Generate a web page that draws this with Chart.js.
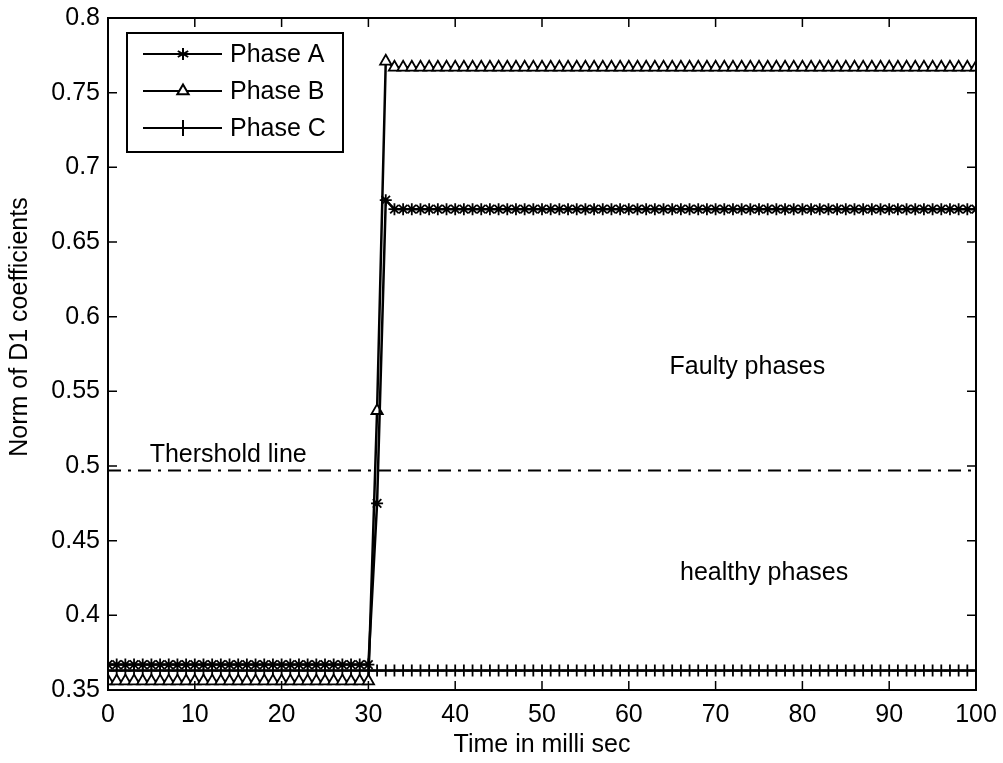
<!DOCTYPE html>
<html>
<head>
<meta charset="utf-8">
<script src="https://cdn.jsdelivr.net/npm/chart.js@4.4.1/dist/chart.umd.min.js"></script>
<style>
html, body { margin: 0; background: #fff; }
#wrap { width: 1003px; height: 763px; }
</style>
</head>
<body>
<div id="wrap"><canvas id="fig"></canvas></div>
<script>
// time axis, ms
const times = [
    0, 1, 2, 3, 4, 5, 6, 7, 8, 9, 10, 11, 12, 13, 14, 15, 16, 17, 18, 19,
    20, 21, 22, 23, 24, 25, 26, 27, 28, 29, 30, 31, 32, 33, 34, 35, 36, 37, 38, 39,
    40, 41, 42, 43, 44, 45, 46, 47, 48, 49, 50, 51, 52, 53, 54, 55, 56, 57, 58, 59,
    60, 61, 62, 63, 64, 65, 66, 67, 68, 69, 70, 71, 72, 73, 74, 75, 76, 77, 78, 79,
    80, 81, 82, 83, 84, 85, 86, 87, 88, 89, 90, 91, 92, 93, 94, 95, 96, 97, 98, 99, 100
];

const phaseA = [
    0.367, 0.367, 0.367, 0.367, 0.367, 0.367, 0.367, 0.367, 0.367, 0.367,
    0.367, 0.367, 0.367, 0.367, 0.367, 0.367, 0.367, 0.367, 0.367, 0.367,
    0.367, 0.367, 0.367, 0.367, 0.367, 0.367, 0.367, 0.367, 0.367, 0.367,
    0.367, 0.475, 0.678, 0.672, 0.672, 0.672, 0.672, 0.672, 0.672, 0.672,
    0.672, 0.672, 0.672, 0.672, 0.672, 0.672, 0.672, 0.672, 0.672, 0.672,
    0.672, 0.672, 0.672, 0.672, 0.672, 0.672, 0.672, 0.672, 0.672, 0.672,
    0.672, 0.672, 0.672, 0.672, 0.672, 0.672, 0.672, 0.672, 0.672, 0.672,
    0.672, 0.672, 0.672, 0.672, 0.672, 0.672, 0.672, 0.672, 0.672, 0.672,
    0.672, 0.672, 0.672, 0.672, 0.672, 0.672, 0.672, 0.672, 0.672, 0.672,
    0.672, 0.672, 0.672, 0.672, 0.672, 0.672, 0.672, 0.672, 0.672, 0.672, 0.672
];

const phaseB = [
    0.356, 0.356, 0.356, 0.356, 0.356, 0.356, 0.356, 0.356, 0.356, 0.356,
    0.356, 0.356, 0.356, 0.356, 0.356, 0.356, 0.356, 0.356, 0.356, 0.356,
    0.356, 0.356, 0.356, 0.356, 0.356, 0.356, 0.356, 0.356, 0.356, 0.356,
    0.356, 0.537, 0.771, 0.767, 0.767, 0.767, 0.767, 0.767, 0.767, 0.767,
    0.767, 0.767, 0.767, 0.767, 0.767, 0.767, 0.767, 0.767, 0.767, 0.767,
    0.767, 0.767, 0.767, 0.767, 0.767, 0.767, 0.767, 0.767, 0.767, 0.767,
    0.767, 0.767, 0.767, 0.767, 0.767, 0.767, 0.767, 0.767, 0.767, 0.767,
    0.767, 0.767, 0.767, 0.767, 0.767, 0.767, 0.767, 0.767, 0.767, 0.767,
    0.767, 0.767, 0.767, 0.767, 0.767, 0.767, 0.767, 0.767, 0.767, 0.767,
    0.767, 0.767, 0.767, 0.767, 0.767, 0.767, 0.767, 0.767, 0.767, 0.767, 0.767
];

const phaseC = [
    0.363, 0.363, 0.363, 0.363, 0.363, 0.363, 0.363, 0.363, 0.363, 0.363,
    0.363, 0.363, 0.363, 0.363, 0.363, 0.363, 0.363, 0.363, 0.363, 0.363,
    0.363, 0.363, 0.363, 0.363, 0.363, 0.363, 0.363, 0.363, 0.363, 0.363,
    0.363, 0.363, 0.363, 0.363, 0.363, 0.363, 0.363, 0.363, 0.363, 0.363,
    0.363, 0.363, 0.363, 0.363, 0.363, 0.363, 0.363, 0.363, 0.363, 0.363,
    0.363, 0.363, 0.363, 0.363, 0.363, 0.363, 0.363, 0.363, 0.363, 0.363,
    0.363, 0.363, 0.363, 0.363, 0.363, 0.363, 0.363, 0.363, 0.363, 0.363,
    0.363, 0.363, 0.363, 0.363, 0.363, 0.363, 0.363, 0.363, 0.363, 0.363,
    0.363, 0.363, 0.363, 0.363, 0.363, 0.363, 0.363, 0.363, 0.363, 0.363,
    0.363, 0.363, 0.363, 0.363, 0.363, 0.363, 0.363, 0.363, 0.363, 0.363, 0.363
];

const threshold = 0.497;
const thresholdTimes = [0, 100];

const xTicks = [0, 10, 20, 30, 40, 50, 60, 70, 80, 90, 100];
const yTicks = [0.35, 0.4, 0.45, 0.5, 0.55, 0.6, 0.65, 0.7, 0.75, 0.8];

// text notes: [label, time, value]
const notes = [
    ["Thershold line", 4.8, 0.507],
    ["Faulty phases", 64.7, 0.566],
    ["healthy phases", 65.9, 0.428]
];

const yTitle = "Norm of D1 coefficients";
const FONT = "'Liberation Sans', Arial, sans-serif";

function pts(ys) {
    return times.map((t, i) => ({ x: t, y: ys[i] }));
}

function marker(c, style, x, y) {
    c.save();
    c.strokeStyle = "#000";
    c.lineWidth = 2;
    c.beginPath();
    if (style === "star") {
        const r = 6;
        for (let k = 0; k < 3; k++) {
            const a = Math.PI / 2 + k * Math.PI / 3;
            c.moveTo(x - r * Math.cos(a), y - r * Math.sin(a));
            c.lineTo(x + r * Math.cos(a), y + r * Math.sin(a));
        }
        c.stroke();
    } else if (style === "triangle") {
        const r = 6.5;
        c.moveTo(x, y - r);
        c.lineTo(x + r * 0.87, y + r * 0.5);
        c.lineTo(x - r * 0.87, y + r * 0.5);
        c.closePath();
        c.fillStyle = "#fff";
        c.fill();
        c.stroke();
    } else {
        c.moveTo(x, y - 8);
        c.lineTo(x, y + 8);
        c.stroke();
    }
    c.restore();
}

const figPlugin = {
    id: "figPlugin",
    afterDraw(chart) {
        const c = chart.ctx;
        const a = chart.chartArea;
        const xs = chart.scales.x;
        const ys = chart.scales.y;
        c.save();
        c.strokeStyle = "#000";
        c.lineWidth = 2;
        c.strokeRect(a.left, a.top, a.right - a.left, a.bottom - a.top);
        c.lineWidth = 1.5;
        c.beginPath();
        xTicks.forEach(t => {
            const px = xs.getPixelForValue(t);
            c.moveTo(px, a.bottom); c.lineTo(px, a.bottom - 9);
            c.moveTo(px, a.top); c.lineTo(px, a.top + 9);
        });
        yTicks.forEach(v => {
            const py = ys.getPixelForValue(v);
            c.moveTo(a.left, py); c.lineTo(a.left + 9, py);
            c.moveTo(a.right, py); c.lineTo(a.right - 9, py);
        });
        c.stroke();

        c.fillStyle = "#000";
        c.font = "25px " + FONT;
        c.textBaseline = "middle";
        c.textAlign = "left";
        notes.forEach(n => {
            c.fillText(n[0], xs.getPixelForValue(n[1]), ys.getPixelForValue(n[2]));
        });

        // y axis title
        c.save();
        c.translate(20, 327);
        c.rotate(-Math.PI / 2);
        c.textAlign = "center";
        c.font = "25px " + FONT;
        c.fillText(yTitle, 0, 0);
        c.restore();

        // legend box inside the axes
        const lx = a.left + 19, ly = a.top + 15, lw = 216, lh = 119;
        c.fillStyle = "#fff";
        c.fillRect(lx, ly, lw, lh);
        c.lineWidth = 2;
        c.strokeRect(lx, ly, lw, lh);
        c.font = "25px " + FONT;
        chart.data.datasets.slice(0, 3).forEach((ds, i) => {
            const y = ly + 21 + i * 37;
            c.lineWidth = 2;
            c.beginPath();
            c.moveTo(lx + 16, y); c.lineTo(lx + 95, y);
            c.stroke();
            marker(c, ds.pointStyle, lx + 56, y);
            c.fillStyle = "#000";
            c.fillText(ds.label, lx + 103, y + 1);
        });
        c.restore();
    }
};

new Chart(document.getElementById("fig"), {
    type: "line",
    data: {
        datasets: [
            {
                label: "Phase A",
                data: pts(phaseA),
                borderColor: "#000",
                borderWidth: 2.5,
                pointStyle: "star",
                pointRadius: 6,
                pointBorderColor: "#000",
                pointBorderWidth: 1.8,
                tension: 0
            },
            {
                label: "Phase B",
                data: pts(phaseB),
                borderColor: "#000",
                borderWidth: 2.5,
                pointStyle: "triangle",
                pointRadius: 6.5,
                pointBackgroundColor: "#fff",
                pointBorderColor: "#000",
                pointBorderWidth: 1.8,
                tension: 0
            },
            {
                label: "Phase C",
                data: pts(phaseC),
                borderColor: "#000",
                borderWidth: 2.5,
                pointStyle: "cross",
                pointRadius: 6,
                pointBorderColor: "#000",
                pointBorderWidth: 1.8,
                tension: 0
            },
            {
                label: "threshold",
                data: thresholdTimes.map(t => ({ x: t, y: threshold })),
                borderColor: "#000",
                borderWidth: 2,
                borderDash: [13, 7, 3, 7],
                pointRadius: 0
            }
        ]
    },
    options: {
        responsive: true,
        maintainAspectRatio: false,
        animation: false,
        layout: { padding: { top: 18, right: 27, left: 0, bottom: 0 } },
        plugins: {
            legend: { display: false },
            tooltip: { enabled: false }
        },
        scales: {
            x: {
                type: "linear",
                min: 0,
                max: 100,
                afterBuildTicks: s => { s.ticks = xTicks.map(v => ({ value: v })); },
                afterFit: s => { s.height = 73; s.paddingLeft = 0; s.paddingRight = 0; },
                grid: { display: false, drawTicks: false },
                border: { display: false },
                ticks: { color: "#000", font: { family: FONT, size: 25 }, padding: 10, maxRotation: 0 },
                title: { display: true, text: "Time in milli sec", color: "#000", font: { family: FONT, size: 25 }, padding: { top: 0, bottom: 3 } }
            },
            y: {
                type: "linear",
                min: 0.35,
                max: 0.8,
                afterBuildTicks: s => { s.ticks = yTicks.map(v => ({ value: v })); },
                afterFit: s => { s.width = 108; s.paddingTop = 0; s.paddingBottom = 0; },
                grid: { display: false, drawTicks: false },
                border: { display: false },
                ticks: {
                    color: "#000",
                    font: { family: FONT, size: 25 },
                    padding: 8,
                    callback: v => String(parseFloat(v.toFixed(2)))
                }
            }
        }
    },
    plugins: [figPlugin]
});
</script>
</body>
</html>
